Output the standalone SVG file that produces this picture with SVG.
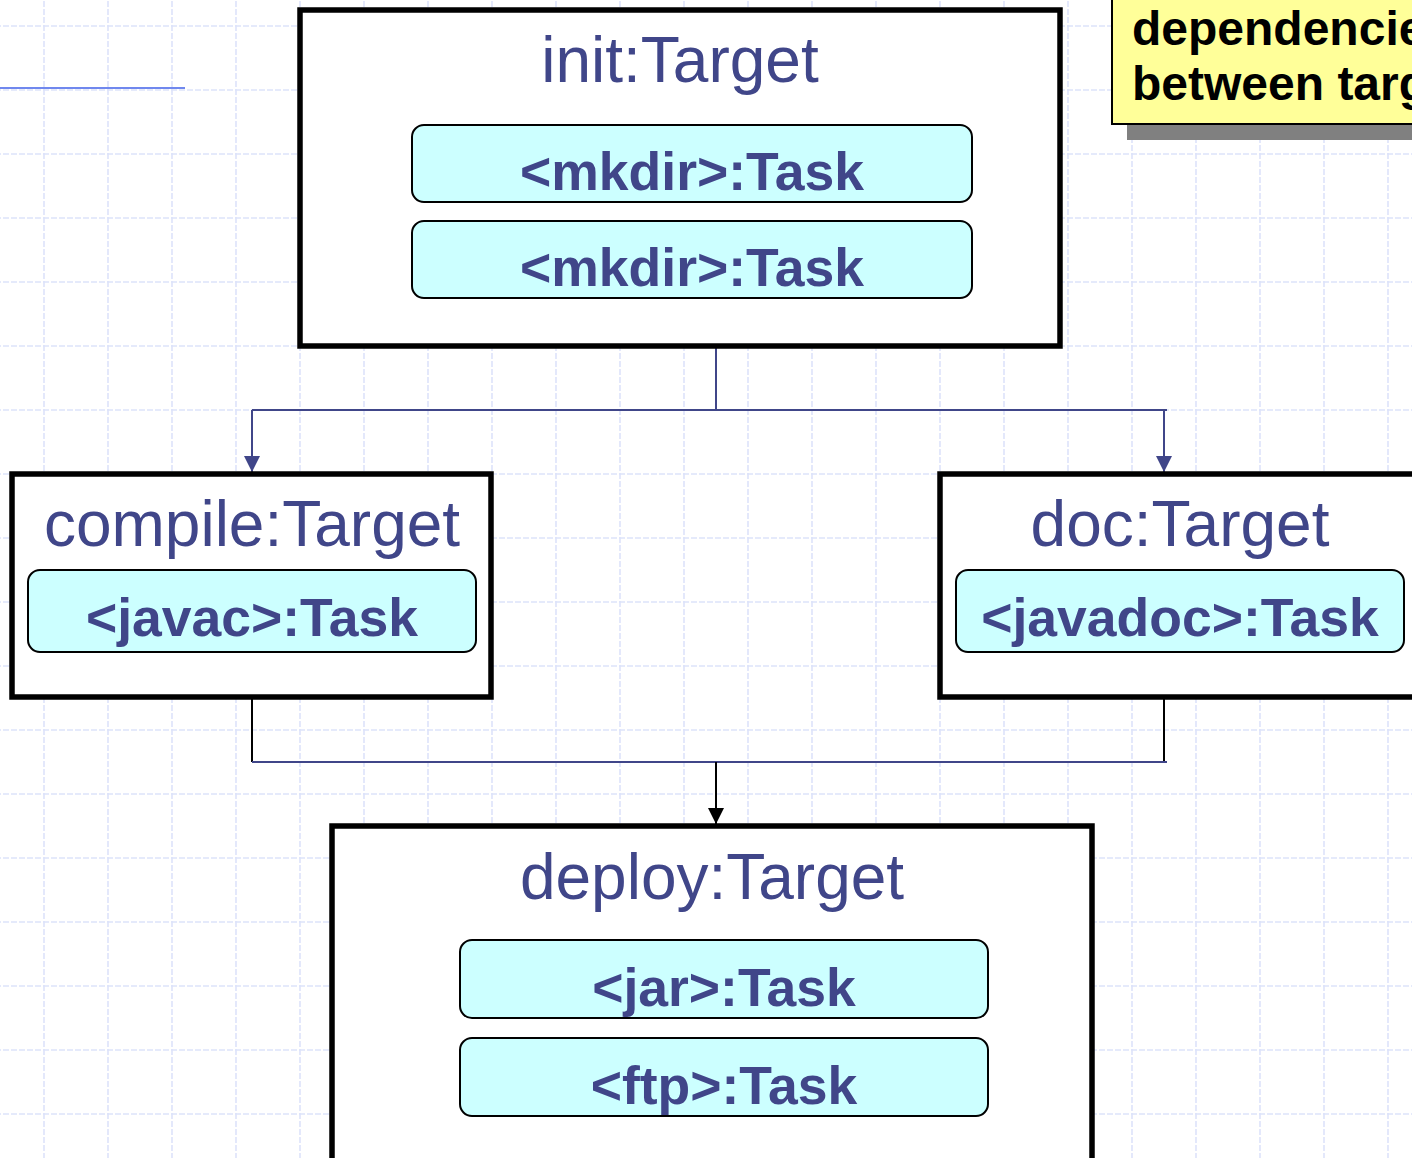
<svg xmlns="http://www.w3.org/2000/svg" width="1412" height="1158" viewBox="0 0 1412 1158">
  <style>
    .target { fill: #ffffff; stroke: #000000; stroke-width: 5.5; }
    .task { fill: #ccffff; stroke: #000000; stroke-width: 2; }
    .title { font-family: "Liberation Sans", Arial, sans-serif; font-size: 64px; fill: #404689; text-anchor: middle; }
    .tasktext { font-family: "Liberation Sans", Arial, sans-serif; font-size: 53.5px; font-weight: bold; fill: #404689; text-anchor: middle; }
    .notetext { font-family: "Liberation Sans", Arial, sans-serif; font-size: 48px; font-weight: bold; fill: #000000; }
    .conn { fill: none; stroke: #404689; stroke-width: 2; }
    .connk { fill: none; stroke: #000000; stroke-width: 2; }
  </style>
  <defs>
    <pattern id="grid" patternUnits="userSpaceOnUse" x="43" y="25" width="64" height="64">
      <path d="M1 0 V64 M0 1 H64" fill="none" stroke="#dde3fa" stroke-width="1.6" stroke-dasharray="6 2"/>
    </pattern>
    <marker id="arrowBlue" viewBox="0 0 16 16" refX="16" refY="8" markerWidth="16" markerHeight="16" markerUnits="userSpaceOnUse" orient="auto">
      <path d="M0 0 L16 8 L0 16 Z" fill="#404689"/>
    </marker>
    <marker id="arrowBlack" viewBox="0 0 16 16" refX="16" refY="8" markerWidth="16" markerHeight="16" markerUnits="userSpaceOnUse" orient="auto">
      <path d="M0 0 L16 8 L0 16 Z" fill="#000000"/>
    </marker>
  </defs>

  <rect width="1412" height="1158" fill="#ffffff"/>
  <rect width="1412" height="1158" fill="url(#grid)"/>

  <line x1="0" y1="88" x2="185" y2="88" stroke="#7088ee" stroke-width="2"/>

  <g id="note">
    <rect x="1127" y="5" width="320" height="135" fill="#808080"/>
    <rect x="1112" y="-10" width="320" height="134" fill="#ffff99" stroke="#000000" stroke-width="2"/>
    <text class="notetext" x="1132" y="45">dependencie</text>
    <text class="notetext" x="1132" y="100">between targ</text>
  </g>

  <g id="connectors">
    <path class="conn" d="M716 347 V410"/>
    <path class="conn" d="M252 410 H1167"/>
    <path class="conn" d="M252 410 V472" marker-end="url(#arrowBlue)"/>
    <path class="conn" d="M1164 410 V472" marker-end="url(#arrowBlue)"/>
    <path class="connk" d="M252 698 V762"/>
    <path class="connk" d="M1164 698 V762"/>
    <path class="conn" d="M252 762 H1167"/>
    <path class="connk" d="M716 762 V824" marker-end="url(#arrowBlack)"/>
  </g>

  <g id="init">
    <rect class="target" x="300" y="10" width="760" height="336"/>
    <text class="title" x="680" y="82">init:Target</text>
    <g id="init-mkdir1">
      <rect class="task" x="412" y="125" width="560" height="77" rx="12"/>
      <text class="tasktext" x="692" y="190">&lt;mkdir&gt;:Task</text>
    </g>
    <g id="init-mkdir2">
      <rect class="task" x="412" y="221" width="560" height="77" rx="12"/>
      <text class="tasktext" x="692" y="286">&lt;mkdir&gt;:Task</text>
    </g>
  </g>

  <g id="compile">
    <rect class="target" x="12" y="474" width="479" height="223"/>
    <text class="title" x="252" y="546">compile:Target</text>
    <g id="compile-javac">
      <rect class="task" x="28" y="570" width="448" height="82" rx="12"/>
      <text class="tasktext" x="252" y="636">&lt;javac&gt;:Task</text>
    </g>
  </g>

  <g id="doc">
    <rect class="target" x="940" y="474" width="520" height="223"/>
    <text class="title" x="1180" y="546">doc:Target</text>
    <g id="doc-javadoc">
      <rect class="task" x="956" y="570" width="448" height="82" rx="12"/>
      <text class="tasktext" x="1180" y="636">&lt;javadoc&gt;:Task</text>
    </g>
  </g>

  <g id="deploy">
    <rect class="target" x="332" y="826" width="760" height="400"/>
    <text class="title" x="712" y="899">deploy:Target</text>
    <g id="deploy-jar">
      <rect class="task" x="460" y="940" width="528" height="78" rx="12"/>
      <text class="tasktext" x="724" y="1006">&lt;jar&gt;:Task</text>
    </g>
    <g id="deploy-ftp">
      <rect class="task" x="460" y="1038" width="528" height="78" rx="12"/>
      <text class="tasktext" x="724" y="1104">&lt;ftp&gt;:Task</text>
    </g>
  </g>
</svg>
